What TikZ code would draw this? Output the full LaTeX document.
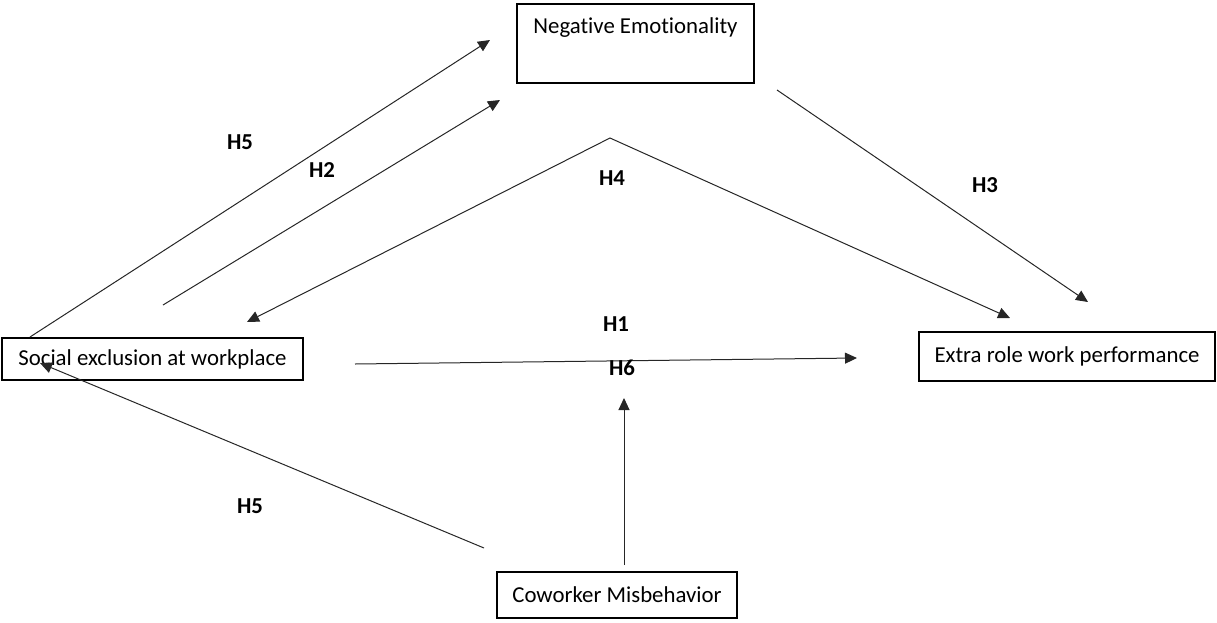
\documentclass[tikz,border=0pt]{standalone}
\usepackage{fontspec}
\setmainfont{Carlito}[Ligatures=NoCommon]
\usetikzlibrary{arrows.meta}

\begin{document}
\begin{tikzpicture}[
    x=0.5pt, y=-0.5pt,
    font=\fontsize{11.4}{13}\selectfont,
    box/.style={draw, line width=0.6pt, inner sep=0pt, align=center},
    hyp/.style={font=\fontsize{11.4}{13}\selectfont\bfseries},
    arr/.style={-{Triangle[length=6pt, width=5.5pt]}, line width=0.5pt, black!85},
  ]
  \useasboundingbox (0,0) rectangle (1217,622);

  % ===== constructs =====
  \node[box, minimum width=118.5pt, text height=14.5pt, text depth=25pt] (negemo)
    at (635.5,43.5) {Negative Emotionality};
  \node[box, minimum width=150.5pt, minimum height=21pt] (social)
    at (152.5,359) {Social exclusion at workplace};
  \node[box, minimum width=148pt, minimum height=24.5pt] (extra)
    at (1067,356.5) {Extra role work performance};
  \node[box, minimum width=120pt, minimum height=23pt] (cowork)
    at (617,595) {Coworker Misbehavior};

  % ===== free ends of the paths =====
  \coordinate (h5a) at (30,337);   \coordinate (h5b) at (490,40);
  \coordinate (h2a) at (163,305);  \coordinate (h2b) at (500,100);
  \coordinate (h4l) at (247,322);  \coordinate (h4top) at (610,138);
  \coordinate (h4r) at (1010,318);
  \coordinate (h3a) at (777,90);   \coordinate (h3b) at (1088,302);
  \coordinate (h1a) at (355,364);  \coordinate (h1b) at (857,358);
  \coordinate (h6a) at (624,565);  \coordinate (h6b) at (624,398);
  \coordinate (h5c) at (484,548);  \coordinate (h5d) at (40,363);

  % ===== arrows =====
  \draw[arr] (h5a) -- (h5b);
  \draw[arr] (h2a) -- (h2b);
  \draw[arr, {Triangle[length=6pt, width=5.5pt]}-{Triangle[length=6pt, width=5.5pt]}]
    (h4l) -- (h4top) -- (h4r);
  \draw[arr] (h3a) -- (h3b);
  \draw[arr] (h1a) -- (h1b);
  \draw[arr] (h6a) -- (h6b);
  \draw[arr] (h5c) -- (h5d);

  % ===== hypothesis labels =====
  \node[hyp] (l5a) at (240,142) {H5};
  \node[hyp] (l2)  at (322,170) {H2};
  \node[hyp] (l4)  at (612,178) {H4};
  \node[hyp] (l3)  at (985,185) {H3};
  \node[hyp] (l1)  at (616,324) {H1};
  \node[hyp] (l6)  at (622,368) {H6};
  \node[hyp] (l5b) at (250,506) {H5};

\end{tikzpicture}
\end{document}
